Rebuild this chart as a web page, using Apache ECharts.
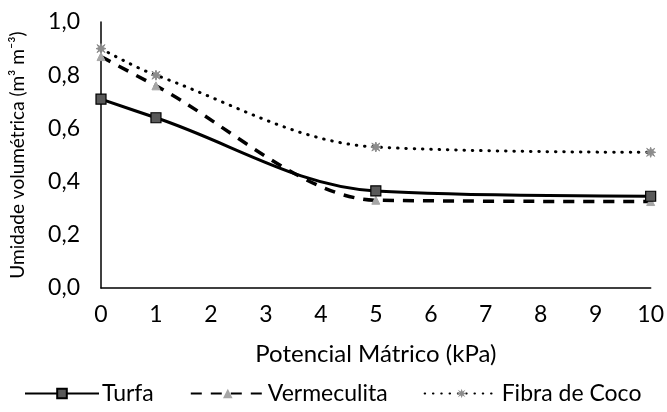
<!DOCTYPE html>
<html>
<head>
<meta charset="utf-8">
<script src="https://cdn.jsdelivr.net/npm/echarts@6/dist/echarts.min.js"></script>
<style>
  html, body { margin: 0; padding: 0; background: #fff; }
  #chart { width: 667px; height: 412px; }
</style>
</head>
<body>
<div id="chart"></div>
<script>
// potencial matrico (kPa)
const xVals = [0, 1, 5, 10]
const turfa = [0.71, 0.64, 0.365, 0.345]
const vermeculita = [0.87, 0.76, 0.33, 0.325]
const fibraCoco = [0.90, 0.80, 0.53, 0.51]

const font = 'Lato, "Noto Sans", sans-serif'
// asterisco / estrela do Excel
const starPath = 'path://M50,0 L60,30 L90,10 L70,40 L100,50 L70,60 L90,90 L60,70 L50,100 L40,70 L10,90 L30,60 L0,50 L30,40 L10,10 L40,30 Z'

const pairs = arr => xVals.map((x, i) => [x, arr[i]])

const chart = echarts.init(document.getElementById('chart'))
chart.setOption({
  animation: false,
  grid: { left: 100, right: 14, top: 22, bottom: 124 },
  legend: {
    bottom: 2,
    left: 19,
    itemWidth: 74,
    itemHeight: 12,
    itemGap: 36,
    textStyle: { fontFamily: font, fontSize: 23, color: '#000', padding: [0, 0, 0, -2] },
    data: ['Turfa', 'Vermeculita', 'Fibra de Coco']
  },
  xAxis: {
    type: 'value',
    min: 0, max: 10, interval: 1,
    name: 'Potencial Mátrico (kPa)',
    nameLocation: 'middle',
    nameGap: 54,
    nameTextStyle: { fontFamily: font, fontSize: 24, color: '#000' },
    axisLine: { lineStyle: { color: '#000', width: 1.5 } },
    axisTick: { show: false },
    splitLine: { show: false },
    axisLabel: { margin: 15, fontFamily: font, fontSize: 23, color: '#000' }
  },
  yAxis: {
    type: 'value',
    min: 0, max: 1, interval: 0.2,
    name: 'Umidade volumétrica (m³ m⁻³)',
    nameLocation: 'middle',
    nameGap: 74,
    nameTextStyle: { fontFamily: font, fontSize: 19, color: '#000' },
    axisLine: { show: true, lineStyle: { color: '#000', width: 1.5 } },
    axisTick: { show: false },
    splitLine: { show: false },
    axisLabel: {
      margin: 21, fontFamily: font, fontSize: 23, color: '#000',
      formatter: v => v.toFixed(1).replace('.', ',')
    }
  },
  series: [
    {
      name: 'Turfa', type: 'line', smooth: 0.35,
      data: pairs(turfa),
      symbol: 'rect', symbolSize: 10,
      itemStyle: { color: '#595959', borderColor: '#000', borderWidth: 1.2 },
      lineStyle: { color: '#000', width: 3 },
      z: 3
    },
    {
      name: 'Vermeculita', type: 'line', smooth: 0.3,
      data: pairs(vermeculita),
      symbol: 'triangle', symbolSize: 8,
      itemStyle: { color: '#a6a6a6', borderColor: '#a6a6a6' },
      lineStyle: { color: '#000', width: 3.5, type: [11, 9] },
      z: 2
    },
    {
      name: 'Fibra de Coco', type: 'line', smooth: 0.35,
      data: pairs(fibraCoco),
      symbol: starPath, symbolSize: 10,
      itemStyle: { color: '#8c8c8c', borderColor: '#8c8c8c' },
      lineStyle: { color: '#000', width: 3, type: [0.5, 7.8], cap: 'round' },
      z: 1
    }
  ]
})
</script>
</body>
</html>
